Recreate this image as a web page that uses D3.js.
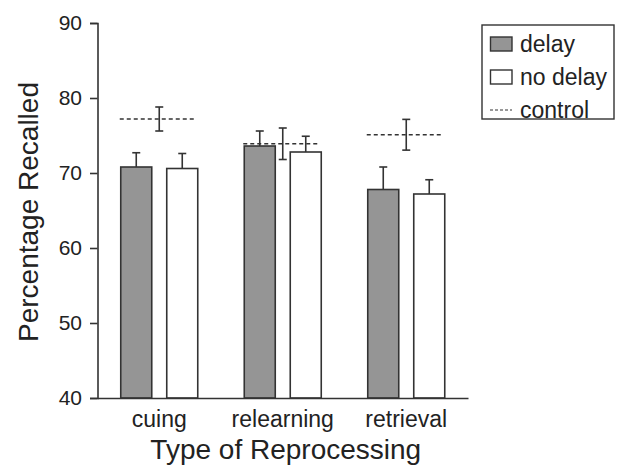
<!DOCTYPE html>
<html>
<head>
<meta charset="utf-8">
<script src="https://cdn.jsdelivr.net/npm/d3@7"></script>
<style>
  body { margin: 0; background: #fff; }
  svg { display: block; }
  text { font-family: "Liberation Sans", Arial, sans-serif; fill: #222; }
</style>
</head>
<body>
<div id="chart"></div>
<script>
// values
var categories = ["cuing", "relearning", "retrieval"];
var series = ["delay", "no delay"];
var delayMean = [70.8, 73.6, 67.8];
var delayErr = [1.9, 2.0, 3.0];
var noDelayMean = [70.6, 72.8, 67.2];
var noDelayErr = [2.0, 2.1, 1.9];
var controlMean = [77.2, 73.9, 75.1];
var controlErr = [1.6, 2.1, 2.05];
var yTicks = [40, 50, 60, 70, 80, 90];

var w = 618, h = 472;
var mLeft = 97.5, mRight = 468, mTop = 23, mBottom = 398;

var svg = d3.select("#chart").append("svg")
    .attr("width", w)
    .attr("height", h);

var y = d3.scaleLinear().domain([40, 90]).range([mBottom, mTop]);

var x0 = d3.scaleBand().domain(categories).range([mLeft, mRight]).padding(0);
// group of two bars sits in the middle of each band
var inset = (x0.bandwidth() - 77) / 2;
var x1 = d3.scaleBand().domain(series)
    .range([inset, inset + 77])
    .paddingInner(0.326).paddingOuter(0);

var rows = [];
for (var i = 0; i < categories.length; i++) {
    rows.push({cat: categories[i], s: "delay", v: delayMean[i], e: delayErr[i]});
    rows.push({cat: categories[i], s: "no delay", v: noDelayMean[i], e: noDelayErr[i]});
}
var fills = {"delay": "#959595", "no delay": "#ffffff"};
var ink = "#333";

// error bars first so bars cover the lower half
var cap = 4;
var eb = svg.append("g").attr("stroke", ink).attr("stroke-width", 1.6);
rows.forEach(function(d) {
    var cx = x0(d.cat) + x1(d.s) + x1.bandwidth() / 2;
    eb.append("line").attr("x1", cx).attr("x2", cx)
        .attr("y1", y(d.v)).attr("y2", y(d.v + d.e));
    eb.append("line").attr("x1", cx - cap).attr("x2", cx + cap)
        .attr("y1", y(d.v + d.e)).attr("y2", y(d.v + d.e));
});

svg.append("g").selectAll("rect")
    .data(rows)
    .enter().append("rect")
    .attr("x", function(d) { return x0(d.cat) + x1(d.s); })
    .attr("y", function(d) { return y(d.v); })
    .attr("width", x1.bandwidth())
    .attr("height", function(d) { return y(40) - y(d.v); })
    .attr("fill", function(d) { return fills[d.s]; })
    .attr("stroke", ink)
    .attr("stroke-width", 1.6);

// control lines with two-sided error bars
var ctrl = svg.append("g").attr("stroke", ink).attr("stroke-width", 1.4);
categories.forEach(function(c, i) {
    var gx = x0(c) + inset, cx = x0(c) + x0.bandwidth() / 2;
    ctrl.append("line")
        .attr("x1", gx - 1).attr("x2", gx + 76)
        .attr("y1", y(controlMean[i])).attr("y2", y(controlMean[i]))
        .attr("stroke-dasharray", "4,3");
    var yt = y(controlMean[i] + controlErr[i]), yb = y(controlMean[i] - controlErr[i]);
    ctrl.append("line").attr("x1", cx).attr("x2", cx).attr("y1", yt).attr("y2", yb)
        .attr("stroke-width", 1.6);
    ctrl.append("line").attr("x1", cx - cap).attr("x2", cx + cap).attr("y1", yt).attr("y2", yt)
        .attr("stroke-width", 1.6);
    ctrl.append("line").attr("x1", cx - cap).attr("x2", cx + cap).attr("y1", yb).attr("y2", yb)
        .attr("stroke-width", 1.6);
});

// y axis
var yAxis = svg.append("g")
    .attr("transform", "translate(" + mLeft + ",0)")
    .call(d3.axisLeft(y).tickValues(yTicks).tickSize(7.5).tickPadding(8));
yAxis.select(".domain").attr("stroke", ink).attr("stroke-width", 1.6);
yAxis.selectAll(".tick line").attr("stroke", ink).attr("stroke-width", 1.6);
yAxis.selectAll("text").attr("font-size", "21px").attr("font-family", "Liberation Sans, Arial, sans-serif")
    .attr("fill", "#222");

// x axis: plain baseline with labels
var xAxis = svg.append("g")
    .attr("transform", "translate(0," + mBottom + ")")
    .call(d3.axisBottom(x0).tickSize(0).tickPadding(13).tickSizeOuter(0));
xAxis.select(".domain").attr("stroke", ink).attr("stroke-width", 1.6);
xAxis.selectAll("text").attr("font-size", "23px").attr("font-family", "Liberation Sans, Arial, sans-serif")
    .attr("fill", "#222");

svg.append("text")
    .attr("x", (mLeft + mRight) / 2 + 3)
    .attr("y", 459)
    .attr("text-anchor", "middle")
    .attr("font-size", "28px")
    .text("Type of Reprocessing");

svg.append("text")
    .attr("transform", "translate(38,212) rotate(-90)")
    .attr("text-anchor", "middle")
    .attr("font-size", "28px")
    .text("Percentage Recalled");

// legend
var lg = svg.append("g").attr("transform", "translate(482,25)");
lg.append("rect").attr("width", 132).attr("height", 94)
    .attr("fill", "#fff").attr("stroke", ink).attr("stroke-width", 1.4);
var legendItems = ["delay", "no delay", "control"];
legendItems.forEach(function(name, i) {
    var cy = 19 + i * 33;
    if (name === "control") {
        lg.append("line").attr("x1", 8).attr("x2", 30).attr("y1", cy).attr("y2", cy)
            .attr("stroke", ink).attr("stroke-width", 1.2).attr("stroke-dasharray", "3,2");
    } else {
        lg.append("rect").attr("x", 8.5).attr("y", cy - 7).attr("width", 21.5).attr("height", 14)
            .attr("fill", fills[name]).attr("stroke", ink).attr("stroke-width", 1.4);
    }
    lg.append("text").attr("x", 38).attr("y", cy + 8)
        .attr("font-size", "23px")
        .text(name);
});
</script>
</body>
</html>
